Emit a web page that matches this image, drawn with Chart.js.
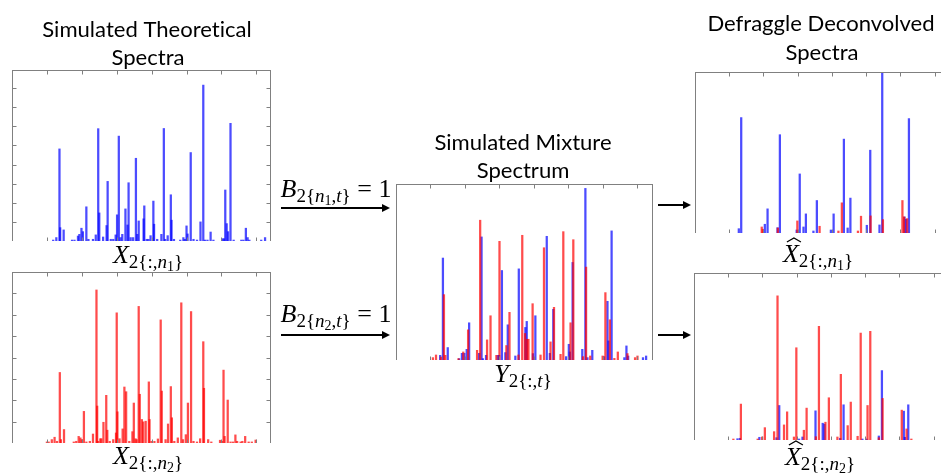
<!DOCTYPE html>
<html>
<head>
<meta charset="utf-8">
<script src="https://cdn.jsdelivr.net/npm/chart.js@4.4.0/dist/chart.umd.min.js"></script>
<style>
  body { margin: 0; background: #fff; width: 941px; height: 475px; overflow: hidden; position: relative; }
  canvas.panel { position: absolute; }
  #overlay { position: absolute; left: 0; top: 0; pointer-events: none; }
</style>
</head>
<body>
<canvas id="theoN1" class="panel"></canvas>
<canvas id="theoN2" class="panel"></canvas>
<canvas id="mixture" class="panel"></canvas>
<canvas id="deconN1" class="panel"></canvas>
<canvas id="deconN2" class="panel"></canvas>
<canvas id="overlay" width="941" height="475"></canvas>
<script>
// m/z positions and intensities
const theoN1Mz = [118,127,136,138,148,172,179,189,193,199,203,213,219,232,240,247,250,261,271,274,283,290,297,301,306,311,316,325,331,334,340,347,355,359,363,377,379,386,391,397,405,407,416,428,435,439,446,455,457,464,482,491,495,500,503,512,520,530,540,548,553,560,569,577,603,607,611,615,619,626,635,657,663,670,675,680,714,725];
const theoN1Int = [0.05,0.18,4.82,0.70,0.58,0.05,0.05,0.26,0.35,0.67,0.49,1.79,0.09,0.09,0.32,5.88,1.47,0.21,0.81,3.12,0.09,0.09,0.32,1.37,5.49,0.18,0.35,1.68,0.84,3.05,0.18,0.18,4.33,0.35,1.05,1.16,1.84,0.09,0.09,0.28,2.09,0.88,0.09,0.35,5.89,0.09,0.28,2.42,1.09,0.09,0.05,0.18,0.09,0.79,0.37,4.63,0.09,0.05,1.00,8.16,0.05,0.05,0.47,0.05,0.12,0.12,2.67,0.91,0.49,6.16,0.05,0.05,0.05,0.67,0.18,0.05,0.05,0.18];

const theoN2Mz = [100,105,114,122,129,137,140,149,177,184,191,196,200,206,213,223,232,242,244,247,253,256,262,270,273,280,290,298,300,302,308,317,322,327,336,345,349,354,357,363,366,372,376,383,392,394,400,408,418,426,429,440,447,455,458,465,475,485,490,498,504,513,520,530,539,548,550,562,571,596,601,606,609,618,626,633,640,645,655,660,668,678,687,698];
const theoN2Int = [0.05,0.05,0.16,0.27,0.08,3.30,0.16,0.63,0.05,0.08,0.31,0.24,0.16,1.48,0.05,0.08,0.42,7.16,1.73,0.08,0.20,0.20,0.97,2.23,0.60,0.08,0.16,0.47,6.09,1.46,0.20,0.66,2.62,2.40,0.08,0.53,1.87,0.20,0.16,6.39,2.28,1.10,0.99,1.02,2.86,1.10,0.08,0.08,0.19,5.76,2.43,0.16,0.89,2.64,1.18,0.08,0.24,6.56,0.16,0.39,1.87,6.15,0.08,0.05,0.20,4.74,2.56,0.16,0.05,0.13,0.08,3.41,0.31,2.01,0.05,0.05,0.38,0.08,0.05,0.08,0.31,0.05,0.05,0.14];

const mixBlueMz = [128,136,150,183,191,198,205,212,241,248,252,261,295,299,307,317,324,346,356,375,379,397,404,437,446,456,493,501,504,512,540,549,555,569,603,613,616,625,662,668,673,716,725];
const mixBlueInt = [0.37,8.11,0.99,0.11,0.53,0.53,0.85,2.96,0.53,9.79,0.11,0.37,0.37,0.37,7.12,0.59,2.80,0.32,7.25,2.59,3.07,0.51,3.52,9.84,0.53,4.03,0.27,1.25,0.64,7.76,0.85,13.65,0.19,0.77,0.27,4.67,1.52,10.27,0.19,1.12,0.32,0.19,0.32];
const mixRedMz = [107,116,130,139,143,181,195,209,235,244,264,274,291,300,320,329,355,366,374,380,384,396,419,429,448,458,477,485,506,514,542,551,563,599,607,620,633,643,671,693,700];
const mixRedInt = [0.19,0.40,0.24,5.20,0.37,0.11,0.64,2.40,0.77,11.12,1.60,3.52,0.37,9.44,1.15,3.79,0.40,9.92,2.11,1.65,1.65,4.48,0.40,8.93,1.44,4.19,0.45,10.21,2.96,9.57,0.27,7.39,0.32,0.32,5.36,3.20,0.13,0.64,0.51,0.19,0.32];

const deconN1BlueMz = [128,135,204,212,241,248,297,306,317,324,346,356,397,405,435,446,454,502,512,539,547,612,617,625];
const deconN1BlueInt = [0.43,11.47,0.87,2.40,0.53,9.77,0.30,5.87,0.60,1.90,0.20,3.23,0.30,1.90,9.33,0.50,3.47,0.77,8.23,0.80,16.33,1.60,1.37,11.37];
const deconN1RedMz = [195,198,242,299,364,419,429,476,485,513,549,606,611,620];
const deconN1RedInt = [0.60,0.37,0.50,1.20,0.67,0.20,3.00,0.20,1.67,1.70,1.33,3.23,1.60,1.43];

const deconN2RedMz = [115,137,186,199,207,234,244,263,272,292,299,321,329,356,365,384,394,419,429,449,458,478,487,507,515,540,551,607,621,635];
const deconN2RedInt = [0.10,3.57,0.10,0.30,1.23,0.83,14.33,1.50,2.80,0.30,9.17,0.97,3.17,0.33,11.30,1.77,4.20,0.30,6.53,1.43,3.77,0.37,10.63,3.43,10.80,0.23,4.13,2.97,1.10,0.10];
const deconN2BlueMz = [127,134,191,241,249,307,317,355,376,381,427,437,492,504,540,549,613,616,626];
const deconN2BlueInt = [0.13,0.17,0.27,0.23,3.43,0.10,0.30,2.90,1.67,1.57,0.17,3.50,0.10,0.10,0.40,6.90,2.87,0.27,3.50];

const mzTicks = [100, 200, 300, 400, 500, 600, 700];

const BLUE = 'rgba(0, 0, 255, 0.7)';
const RED = 'rgba(255, 0, 0, 0.7)';
const FRAME = '#808080';

const toPoints = (mz, inten) => mz.map((x, i) => ({x, y: inten[i]}));

// box outline with short inward ticks, matching the old plotting style
const framePlugin = {
  id: 'frame',
  afterDraw(chart, args, opts) {
    const {ctx, chartArea: a, scales} = chart;
    const l = Math.round(a.left) + 0.5, r = Math.round(a.right) - 0.5;
    const t = Math.round(a.top) + 0.5, b = Math.round(a.bottom) + 0.5;
    ctx.save();
    ctx.strokeStyle = FRAME;
    ctx.lineWidth = 1;
    ctx.beginPath();
    mzTicks.forEach(v => {
      const px = Math.round(scales.x.getPixelForValue(v)) + 0.5;
      ctx.moveTo(px, t); ctx.lineTo(px, t + 4);
      ctx.moveTo(px, b); ctx.lineTo(px, b - 4);
    });
    (opts.yTicks || []).forEach(v => {
      const py = Math.round(scales.y.getPixelForValue(v)) + 0.5;
      ctx.moveTo(l, py); ctx.lineTo(l + 4, py);
      ctx.moveTo(r, py); ctx.lineTo(r - 4, py);
    });
    ctx.stroke();
    ctx.strokeRect(l, t, r - l, b - t);
    ctx.restore();
  }
};

function makePanel(id, left, top, w, h, xMax, yMax, yTicks, datasets) {
  const el = document.getElementById(id);
  el.style.left = left + 'px';
  el.style.top = top + 'px';
  el.width = w + 1;
  el.height = h + 1;
  return new Chart(el, {
    type: 'bar',
    data: {
      datasets: datasets.map(d => ({
        data: d.points,
        backgroundColor: d.color,
        borderWidth: 0,
        barThickness: 1.6,
        grouped: false
      }))
    },
    options: {
      responsive: false,
      animation: false,
      devicePixelRatio: 1,
      layout: {padding: {left: 0, top: 0, right: 0, bottom: 0}},
      plugins: {legend: {display: false}, tooltip: {enabled: false}, frame: {yTicks}},
      scales: {
        x: {type: 'linear', min: 0, max: xMax, offset: false, display: false},
        y: {min: 0, max: yMax, display: false}
      }
    },
    plugins: [framePlugin]
  });
}

makePanel('theoN1', 12, 70, 258, 170, 742, 8.95, [1,2,3,4,5,6,7,8],
  [{points: toPoints(theoN1Mz, theoN1Int), color: BLUE}]);
makePanel('theoN2', 12, 272, 258, 170, 742, 8.0, [1,2,3,4,5,6,7],
  [{points: toPoints(theoN2Mz, theoN2Int), color: RED}]);
makePanel('mixture', 396, 184, 256, 175, 745, 14, [],
  [{points: toPoints(mixRedMz, mixRedInt), color: RED},
   {points: toPoints(mixBlueMz, mixBlueInt), color: BLUE}]);
makePanel('deconN1', 695, 72, 254, 160, 745, 16.0, [],
  [{points: toPoints(deconN1RedMz, deconN1RedInt), color: RED},
   {points: toPoints(deconN1BlueMz, deconN1BlueInt), color: BLUE}]);
makePanel('deconN2', 694, 273, 254, 166, 745, 16.6, [],
  [{points: toPoints(deconN2RedMz, deconN2RedInt), color: RED},
   {points: toPoints(deconN2BlueMz, deconN2BlueInt), color: BLUE}]);

// titles, math labels and arrows
const ctx = document.getElementById('overlay').getContext('2d');
ctx.fillStyle = '#000';
ctx.textBaseline = 'alphabetic';

ctx.font = '20px Lato';
const titleSize = 20 * 210 / ctx.measureText('Simulated Theoretical').width;
ctx.font = titleSize + 'px Lato';
ctx.textAlign = 'center';
// \u200C keeps Lato from joining "ti" into a ligature
[['Simulated Theoret\u200Cical', 147, 37], ['Spectra', 148, 65],
 ['Simulated Mixture', 523, 150], ['Spectrum', 523, 178],
 ['Defraggle Deconvolved', 821, 31], ['Spectra', 822, 60]]
  .forEach(([t, x, y]) => ctx.fillText(t, x, y));

const SERIF = '"Liberation Serif", "DejaVu Serif", serif';
function mathLabel(cx, y, parts, hat) {
  const fontOf = p => (p[2] ? 'italic ' : '') + p[1] + 'px ' + SERIF;
  let total = 0;
  parts.forEach(p => { ctx.font = fontOf(p); total += ctx.measureText(p[0]).width; });
  let x = cx - total / 2;
  ctx.textAlign = 'left';
  parts.forEach((p, i) => {
    ctx.font = fontOf(p);
    ctx.fillText(p[0], x, y + p[3]);
    if (i === 0 && hat) {
      ctx.save();
      ctx.lineWidth = 1.3;
      ctx.beginPath();
      ctx.moveTo(x + 4, y - 20);
      ctx.lineTo(x + 11, y - 24);
      ctx.lineTo(x + 18, y - 20);
      ctx.stroke();
      ctx.restore();
    }
    x += ctx.measureText(p[0]).width;
  });
}
const xSub = n => [['X', 26, true, 0], ['2{:,', 19, false, 5], ['n', 19, true, 5], [n, 14, false, 8], ['}', 19, false, 5]];
const bSub = n => [['B', 26, true, 0], ['2{', 19, false, 5], ['n', 19, true, 5], [n, 14, false, 8], [',', 19, false, 5], ['t', 19, true, 5], ['}', 19, false, 5], [' = 1', 26, false, 0]];

mathLabel(148, 263, xSub('1'));
mathLabel(148, 464, xSub('2'));
mathLabel(523, 382, [['Y', 26, true, 0], ['2{:,', 19, false, 5], ['t', 19, true, 5], ['}', 19, false, 5]]);
mathLabel(818, 262, xSub('1'), true);
mathLabel(820, 465, xSub('2'), true);
mathLabel(336, 197, bSub('1'));
mathLabel(336, 322, bSub('2'));

function arrow(x1, x2, y) {
  ctx.save();
  ctx.strokeStyle = '#000';
  ctx.lineWidth = 2;
  ctx.beginPath();
  ctx.moveTo(x1, y); ctx.lineTo(x2 - 6, y);
  ctx.stroke();
  ctx.beginPath();
  ctx.moveTo(x2, y); ctx.lineTo(x2 - 8, y - 4); ctx.lineTo(x2 - 8, y + 4);
  ctx.closePath();
  ctx.fill();
  ctx.restore();
}
arrow(281, 390, 208);
arrow(281, 390, 335);
arrow(658, 691, 205);
arrow(658, 691, 335);
</script>
</body>
</html>
